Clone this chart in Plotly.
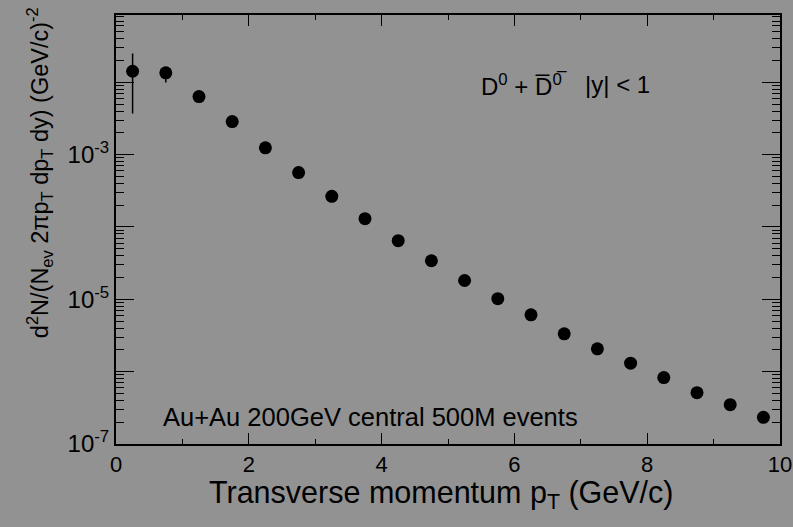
import plotly.graph_objects as go

# Data
pt = [0.25, 0.75, 1.25, 1.75, 2.25, 2.75, 3.25, 3.75, 4.25, 4.75,
      5.25, 5.75, 6.25, 6.75, 7.25, 7.75, 8.25, 8.75, 9.25, 9.75]
yields = [1.42e-2, 1.35e-2, 6.35e-3, 2.86e-3, 1.24e-3, 5.64e-4, 2.65e-4, 1.30e-4, 6.46e-5, 3.41e-5,
          1.82e-5, 1.02e-5, 6.1e-6, 3.33e-6, 2.07e-6, 1.31e-6, 8.28e-7, 5.13e-7, 3.5e-7, 2.34e-7]
err_up = [1.08e-2, 2.0e-3] + [0.0] * 18
err_dn = [1.05e-2, 3.6e-3] + [0.0] * 18

x_ticks = [0, 2, 4, 6, 8, 10]
x_minor = [1, 3, 5, 7, 9]
y_decades = [-7, -6, -5, -4, -3, -2]
y_labeled = [-7, -5, -3]

FONT = "Liberation Sans, Arial, Helvetica, sans-serif"
BG = "#929292"

fig = go.Figure()
fig.add_trace(go.Scatter(
    x=pt, y=yields, mode="markers",
    marker=dict(color="black", size=13, symbol="circle"),
    error_y=dict(type="data", symmetric=False, array=err_up, arrayminus=err_dn,
                 color="black", thickness=1.5, width=0),
    showlegend=False,
))

ytickvals = [10.0 ** d for d in y_decades]
yticktext = ["10<sup>%d</sup>" % d if d in y_labeled else "" for d in y_decades]
yminor = [k * 10.0 ** d for d in range(-7, -1) for k in range(2, 10)]

fig.update_layout(
    width=793, height=527,
    margin=dict(l=116, r=13, t=15, b=83, autoexpand=False),
    paper_bgcolor=BG, plot_bgcolor=BG,
    font=dict(family=FONT, color="black"),
    xaxis=dict(range=[0, 10], tickvals=x_ticks, ticktext=[str(v) for v in x_ticks],
               ticks="inside", ticklen=11, tickwidth=1, tickcolor="black",
               minor=dict(tickvals=x_minor, ticks="inside", ticklen=5, tickcolor="black"),
               showline=True, linecolor="black", linewidth=2, mirror="ticks",
               showgrid=False, zeroline=False, automargin=False,
               tickfont=dict(size=22, family=FONT)),
    yaxis=dict(type="log", range=[-7, -1.07], tickvals=ytickvals, ticktext=yticktext,
               ticks="inside", ticklen=18, tickwidth=1, tickcolor="black",
               minor=dict(tickvals=yminor, ticks="inside", ticklen=8, tickcolor="black"),
               showline=True, linecolor="black", linewidth=2, mirror="ticks",
               showgrid=False, zeroline=False, automargin=False,
               tickfont=dict(size=24, family=FONT)),
)

fig.add_annotation(text="d<sup>2</sup>N/(N<sub>ev</sub> 2πp<sub>T</sub> dp<sub>T</sub> dy) (GeV/c)<sup>-2</sup>",
                   xref="paper", yref="paper", x=-0.114, y=0.632, textangle=-90,
                   showarrow=False, font=dict(size=23.5, family=FONT), xanchor="center", yanchor="middle")
fig.add_annotation(text="Transverse momentum p<sub>T</sub> (GeV/c)",
                   xref="paper", yref="paper", x=0.49, y=-0.118,
                   showarrow=False, font=dict(size=30.5, family=FONT), xanchor="center", yanchor="middle")
fig.add_annotation(text="D<sup>0</sup> + D\u0305<sup>0\u0305</sup>",
                   xref="paper", yref="paper", x=0.546, y=0.837,
                   showarrow=False, font=dict(size=24, family=FONT), xanchor="left", yanchor="middle")
fig.add_annotation(text="|y| < 1",
                   xref="paper", yref="paper", x=0.703, y=0.837,
                   showarrow=False, font=dict(size=24, family=FONT), xanchor="left", yanchor="middle")
fig.add_annotation(text="Au+Au 200GeV central 500M events",
                   xref="paper", yref="paper", x=0.068, y=0.062,
                   showarrow=False, font=dict(size=25.5, family=FONT), xanchor="left", yanchor="middle")

fig.write_html("out.html", config={"displayModeBar": False},
               post_script="document.body.style.margin='0';document.body.style.background='%s';" % BG)
